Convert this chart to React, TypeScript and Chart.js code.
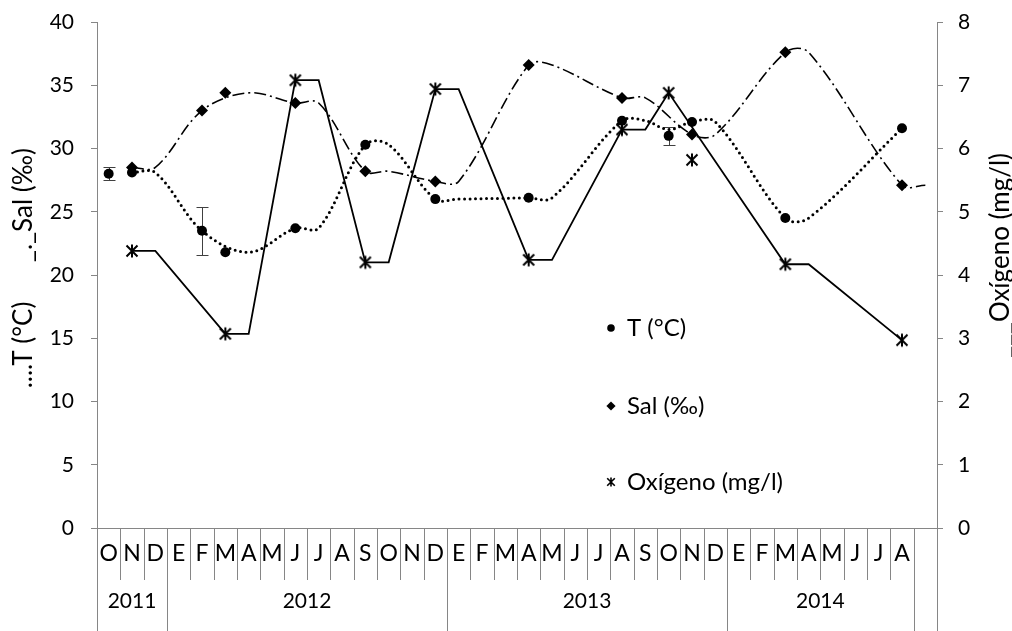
import React, { useEffect, useRef } from 'react';
import { Chart, registerables } from 'chart.js';

Chart.register(...registerables);

// ---- categories ----
const monthLabels = [
  'O', 'N', 'D',
  'E', 'F', 'M', 'A', 'M', 'J', 'J', 'A', 'S', 'O', 'N', 'D',
  'E', 'F', 'M', 'A', 'M', 'J', 'J', 'A', 'S', 'O', 'N', 'D',
  'E', 'F', 'M', 'A', 'M', 'J', 'J', 'A',
  '',
];
const yearLabels = ['2011', '2012', '2013', '2014', ''];
const yearSpans = [3, 12, 12, 8, 1];

const N = null;

// ---- temperature (°C): sampled values, error and smoothed trace ----
const tempValues = [
  28.0, 28.1, N, N, 23.5, 21.8, N, N, 23.7, N, N, 30.3,
  N, N, 26.0, N, N, N, 26.1, N, N, N, 32.2, N,
  31.0, 32.1, N, N, N, 24.5, N, N, N, N, 31.6, N,
];
const tempErrors = [
  0.5, N, N, N, 1.9, N, N, N, N, N, N, N,
  N, N, N, N, N, N, N, N, N, N, N, N,
  0.7, N, N, N, N, N, N, N, N, N, N, N,
];
const tempTrace = [
  N, 28.1, 28.1, N, 23.5, N, 21.8, N, 23.7, 23.7, N, 30.3,
  30.3, N, 26.0, 26.0, N, N, 26.1, 26.1, N, N, 32.2, 32.2,
  31.5, 32.1, 32.1, N, N, 24.5, 24.5, N, N, N, 31.6, N,
];

// ---- salinity (‰) ----
const salValues = [
  N, 28.5, N, N, 33.0, 34.4, N, N, 33.6, N, N, 28.2,
  N, N, 27.4, N, N, N, 36.6, N, N, N, 34.0, N,
  N, 31.1, N, N, N, 37.6, N, N, N, N, 27.1, N,
];
const salTrace = [
  N, 28.5, 28.5, N, 33.0, N, 34.4, N, 33.6, 33.6, N, 28.2,
  28.2, N, 27.4, 27.4, N, N, 36.6, 36.6, N, N, 34.0, 34.0,
  N, 31.1, 31.1, N, N, 37.6, 37.6, N, N, N, 27.1, 27.1,
];

// ---- dissolved oxygen (mg/l) ----
const oxyValues = [
  N, 4.38, N, N, N, 3.07, N, N, 7.08, N, N, 4.2,
  N, N, 6.94, N, N, N, 4.24, N, N, N, 6.3, N,
  6.88, 5.82, N, N, N, 4.17, N, N, N, N, 2.97, N,
];
const oxyTrace = [
  N, 4.38, 4.38, N, N, 3.07, 3.07, N, 7.08, 7.08, N, 4.2,
  4.2, N, 6.94, 6.94, N, N, 4.24, 4.24, N, N, 6.3, 6.3,
  6.88, N, N, N, N, 4.17, 4.17, N, N, N, 2.97, N,
];

const leftTicks = { min: 0, max: 40, step: 5 };
const rightTicks = { min: 0, max: 8, step: 1 };

const FONT = 'Lato, "Open Sans", sans-serif';
const TICK_FS = 21;
const MONTH_FS = 23;
const YEAR_FS = 21;
const LEGEND_FS = 24;
const TITLE_FS = 26;
const INK = '#000000';
const AXIS_GREY = '#868686';

function makeAsterisk(size: number, armV: number, armD: number, width: number) {
  const c = document.createElement('canvas');
  c.width = size;
  c.height = size;
  const g = c.getContext('2d')!;
  const m = size / 2;
  g.strokeStyle = INK;
  g.lineWidth = width;
  g.beginPath();
  g.moveTo(m, m - armV);
  g.lineTo(m, m + armV);
  g.moveTo(m - armD, m - armD);
  g.lineTo(m + armD, m + armD);
  g.moveTo(m + armD, m - armD);
  g.lineTo(m - armD, m + armD);
  g.stroke();
  return c;
}

const crisp = (v: number) => Math.round(v) + 0.5;

// two-level month / year axis drawn from the category scale
const groupedAxisPlugin = {
  id: 'groupedAxis',
  afterDraw(chart: any) {
    const { ctx, chartArea } = chart;
    const x = chart.scales.x;
    const bottom = chartArea.bottom;
    const H = chart.height;
    const step = x.getPixelForValue(1) - x.getPixelForValue(0);
    const edge = (k: number) => x.getPixelForValue(k) - step / 2;
    const groupEdges = new Set<number>([0]);
    let acc = 0;
    yearSpans.forEach((s) => {
      acc += s;
      groupEdges.add(acc);
    });

    ctx.save();
    ctx.strokeStyle = AXIS_GREY;
    ctx.lineWidth = 1;
    ctx.beginPath();
    ctx.moveTo(chartArea.left - 6, crisp(bottom));
    ctx.lineTo(chartArea.right + 6, crisp(bottom));
    for (let k = 0; k <= monthLabels.length; k++) {
      const px = crisp(edge(k));
      ctx.moveTo(px, bottom);
      ctx.lineTo(px, groupEdges.has(k) ? H : bottom + 52);
    }
    ctx.stroke();

    ctx.fillStyle = INK;
    ctx.textAlign = 'center';
    ctx.textBaseline = 'middle';
    ctx.font = `${MONTH_FS}px ${FONT}`;
    monthLabels.forEach((m, i) => {
      if (m) ctx.fillText(m, x.getPixelForValue(i), bottom + 26);
    });
    ctx.font = `${YEAR_FS}px ${FONT}`;
    let start = 0;
    yearLabels.forEach((yl, gi) => {
      const end = start + yearSpans[gi];
      if (yl) ctx.fillText(yl, (edge(start) + edge(end)) / 2, bottom + 73);
      start = end;
    });
    ctx.restore();
  },
};

// error bars on the temperature samples
const errorBarPlugin = {
  id: 'tempErrorBars',
  beforeDatasetsDraw(chart: any) {
    const { ctx } = chart;
    const x = chart.scales.x;
    const y = chart.scales.y;
    ctx.save();
    ctx.strokeStyle = '#404040';
    ctx.lineWidth = 1;
    ctx.beginPath();
    tempErrors.forEach((e, i) => {
      const v = tempValues[i];
      if (e == null || v == null) return;
      const px = crisp(x.getPixelForValue(i));
      const top = crisp(y.getPixelForValue(v + e));
      const bot = crisp(y.getPixelForValue(v - e));
      ctx.moveTo(px, top);
      ctx.lineTo(px, bot);
      ctx.moveTo(px - 6, top);
      ctx.lineTo(px + 6, top);
      ctx.moveTo(px - 6, bot);
      ctx.lineTo(px + 6, bot);
    });
    ctx.stroke();
    ctx.restore();
  },
};

// axis titles, both reading bottom-to-top
const axisTitlePlugin = {
  id: 'axisTitles',
  afterDraw(chart: any) {
    const { ctx } = chart;
    ctx.save();
    ctx.fillStyle = INK;
    ctx.font = `${TITLE_FS}px ${FONT}`;
    ctx.textBaseline = 'middle';
    ctx.textAlign = 'center';

    ctx.save();
    ctx.translate(24, 345);
    ctx.rotate(-Math.PI / 2);
    ctx.fillText('....T (°C)', 0, 0);
    ctx.restore();

    ctx.save();
    ctx.translate(24, 205);
    ctx.rotate(-Math.PI / 2);
    ctx.fillText('_._Sal (‰)', 0, 0);
    ctx.restore();

    ctx.save();
    ctx.textBaseline = 'alphabetic';
    ctx.textAlign = 'left';
    const lead = ctx.measureText('___').width;
    ctx.translate(1009, 322 + lead);
    ctx.rotate(-Math.PI / 2);
    ctx.fillText('___Oxígeno (mg/l)', 0, 0);
    ctx.restore();

    ctx.restore();
  },
};

// in-plot legend for the three measured variables
const legendPlugin = {
  id: 'inPlotLegend',
  afterDraw(chart: any) {
    const { ctx } = chart;
    const items = chart.data.datasets.slice(0, 3);
    const rows = [328, 406, 482];
    const mx = 611;
    ctx.save();
    ctx.fillStyle = INK;
    ctx.strokeStyle = INK;
    ctx.font = `${LEGEND_FS}px ${FONT}`;
    ctx.textBaseline = 'middle';
    ctx.textAlign = 'left';
    items.forEach((ds: any, i: number) => {
      const cy = rows[i];
      if (i === 0) {
        ctx.beginPath();
        ctx.arc(mx, cy, 3.8, 0, Math.PI * 2);
        ctx.fill();
      } else if (i === 1) {
        ctx.beginPath();
        ctx.moveTo(mx, cy - 4.6);
        ctx.lineTo(mx + 4.6, cy);
        ctx.lineTo(mx, cy + 4.6);
        ctx.lineTo(mx - 4.6, cy);
        ctx.closePath();
        ctx.fill();
      } else {
        ctx.lineWidth = 1.6;
        ctx.beginPath();
        ctx.moveTo(mx, cy - 4.6);
        ctx.lineTo(mx, cy + 4.6);
        ctx.moveTo(mx - 3.8, cy - 3.8);
        ctx.lineTo(mx + 3.8, cy + 3.8);
        ctx.moveTo(mx + 3.8, cy - 3.8);
        ctx.lineTo(mx - 3.8, cy + 3.8);
        ctx.stroke();
      }
      ctx.fillText(ds.label, 627, cy);
    });
    ctx.restore();
  },
};

// fixed axis widths; tick labels may overhang the plot edges
const fixWidth = (w: number) => (s: any) => {
  s.width = w;
  s.paddingTop = 0;
  s.paddingBottom = 0;
};

export default function App() {
  const canvasRef = useRef<HTMLCanvasElement | null>(null);

  useEffect(() => {
    if (!canvasRef.current) return;
    const star = makeAsterisk(16, 6.5, 5.5, 2);
    const tickFont = { family: FONT, size: TICK_FS };
    const chart = new Chart(canvasRef.current, {
      type: 'line',
      data: {
        labels: monthLabels,
        datasets: [
          {
            label: 'T (°C)',
            data: tempValues,
            yAxisID: 'y',
            showLine: false,
            pointStyle: 'circle',
            pointRadius: 5,
            pointBackgroundColor: INK,
            pointBorderColor: INK,
            pointBorderWidth: 0,
            order: 0,
          },
          {
            label: 'Sal (‰)',
            data: salValues,
            yAxisID: 'y',
            showLine: false,
            pointStyle: 'rectRot',
            pointRadius: 6,
            pointBackgroundColor: INK,
            pointBorderColor: INK,
            pointBorderWidth: 0,
            order: 0,
          },
          {
            label: 'Oxígeno (mg/l)',
            data: oxyValues,
            yAxisID: 'y1',
            showLine: false,
            pointStyle: star as any,
            pointRadius: 6,
            order: 0,
          },
          {
            label: 'T trace',
            data: tempTrace,
            yAxisID: 'y',
            spanGaps: true,
            tension: 0.35,
            borderColor: INK,
            borderWidth: 3,
            borderDash: [0, 5.5],
            borderCapStyle: 'round',
            pointRadius: 0,
            order: 1,
          },
          {
            label: 'Sal trace',
            data: salTrace,
            yAxisID: 'y',
            spanGaps: true,
            tension: 0.35,
            borderColor: INK,
            borderWidth: 1.6,
            borderDash: [12, 4, 2, 4],
            pointRadius: 0,
            order: 1,
          },
          {
            label: 'Oxígeno trace',
            data: oxyTrace,
            yAxisID: 'y1',
            spanGaps: true,
            tension: 0,
            borderColor: INK,
            borderWidth: 1.8,
            pointRadius: 0,
            order: 1,
          },
        ],
      },
      options: {
        responsive: true,
        maintainAspectRatio: false,
        animation: false,
        events: [],
        layout: { padding: { top: 22, bottom: 103, left: 0, right: 0 } },
        plugins: {
          legend: { display: false },
          tooltip: { enabled: false },
        },
        scales: {
          x: {
            type: 'category',
            labels: monthLabels,
            offset: true,
            display: false,
          },
          y: {
            position: 'left',
            min: leftTicks.min,
            max: leftTicks.max,
            ticks: { stepSize: leftTicks.step, font: tickFont, color: INK, padding: 17 },
            grid: { drawOnChartArea: false, drawTicks: true, tickLength: 6, color: AXIS_GREY },
            border: { color: AXIS_GREY, width: 1 },
            afterFit: fixWidth(97),
          },
          y1: {
            position: 'right',
            min: rightTicks.min,
            max: rightTicks.max,
            ticks: { stepSize: rightTicks.step, font: tickFont, color: INK, padding: 15 },
            grid: { drawOnChartArea: false, drawTicks: true, tickLength: 6, color: AXIS_GREY },
            border: { color: AXIS_GREY, width: 1 },
            afterFit: fixWidth(75),
          },
        },
      } as any,
      plugins: [errorBarPlugin, groupedAxisPlugin, axisTitlePlugin, legendPlugin],
    });
    return () => chart.destroy();
  }, []);

  return (
    <div style={{ position: 'fixed', left: 0, top: 0, width: 1012, height: 631, background: '#fff' }}>
      <canvas ref={canvasRef} />
    </div>
  );
}
